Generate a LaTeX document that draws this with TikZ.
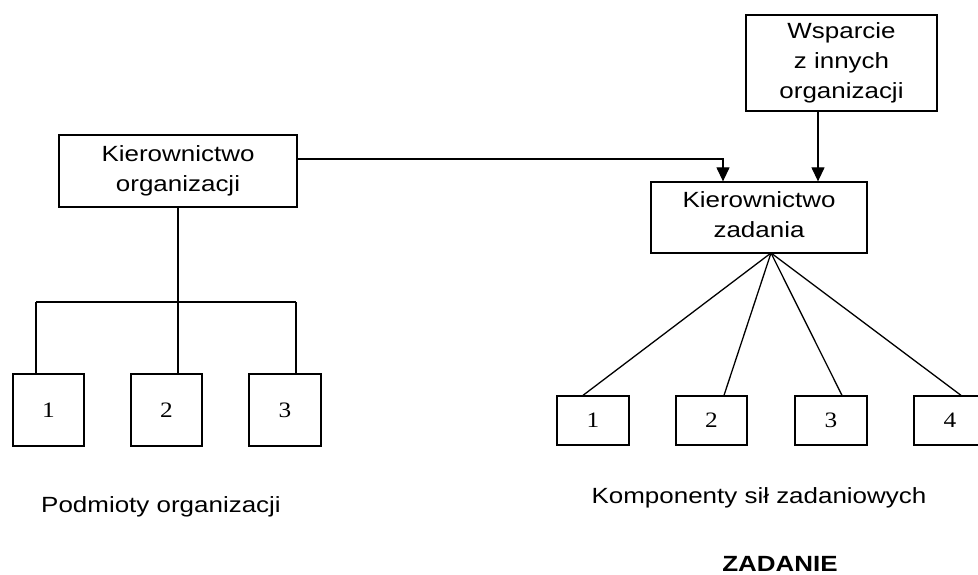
\documentclass[tikz,border=0pt]{standalone}
\usepackage{fontspec}
\setmainfont{Liberation Sans}[FakeStretch=1.18]
\newfontfamily\numfont{Liberation Serif}[FakeStretch=1.15]
\usetikzlibrary{arrows.meta,calc}
\begin{document}
\begin{tikzpicture}[x=1pt,y=-1pt,
  line width=1.3pt,
  txt/.style={font=\fontsize{22}{30}\selectfont, align=center, inner sep=0pt},
  box/.style={draw, txt},
  numbox/.style={draw, inner sep=0pt, font=\numfont\fontsize{22}{24}\selectfont},
  arr/.style={-{Triangle[length=14pt,width=13pt]}}]
\useasboundingbox (0,0) rectangle (978,575);

% left hierarchy
\node[box, minimum width=238pt, minimum height=72pt] (ko) at (178,171) {Kierownictwo\\organizacji};
\node[numbox, minimum width=71pt, minimum height=72pt] (l1) at (48.5,410) {1};
\node[numbox, minimum width=71pt, minimum height=72pt] (l2) at (166.5,410) {2};
\node[numbox, minimum width=72pt, minimum height=72pt] (l3) at (285,410) {3};

\coordinate (bus) at (178,302);
\coordinate (bl) at (36,302);
\coordinate (br) at (296,302);
\draw (ko.south -| bus) -- (bus);
\draw (bl) -- (br);
\draw (bl) -- (bl |- l1.north);
\draw (bus) -- (bus |- l2.north);
\draw (br) -- (br |- l3.north);

% right hierarchy
\node[box, minimum width=191pt, minimum height=96pt] (ws) at (841.5,63) {Wsparcie\\z innych\\organizacji};
\node[draw, minimum width=216pt, minimum height=71pt] (kz) at (759,217.5) {};
\node[txt] (kzt) at ($(kz)+(0,-3)$) {Kierownictwo\\zadania};
\node[numbox, minimum width=72pt, minimum height=49pt] (r1) at (593,420.5) {1};
\node[numbox, minimum width=71pt, minimum height=49pt] (r2) at (711.5,420.5) {2};
\node[numbox, minimum width=72pt, minimum height=49pt] (r3) at (831,420.5) {3};
\node[numbox, minimum width=72pt, minimum height=49pt] (r4) at (950,420.5) {4};

\coordinate (a1) at (297,159);
\coordinate (a1x) at (723,0);
\coordinate (wsx) at (818,0);
\draw[arr] (a1) -| (kz.north -| a1x);
\draw[arr] (ws.south -| wsx) -- (kz.north -| wsx);

\coordinate (fan) at (771,253);
\draw (fan) -- ($(r1.north)+(-10,0)$);
\draw (fan) -- ($(r2.north)+(12.5,0)$);
\draw (fan) -- ($(r3.north)+(11,0)$);
\draw (fan) -- ($(r4.north)+(11,0)$);

% captions
\node[txt, anchor=base] (cl) at (161,512) {Podmioty organizacji};
\node[txt, anchor=base] (cr) at (759,503) {Komponenty sił zadaniowych};
\node[txt, anchor=base, font=\bfseries\fontsize{22}{30}\selectfont] (cz) at (780,571) {ZADANIE};
\end{tikzpicture}
\end{document}
